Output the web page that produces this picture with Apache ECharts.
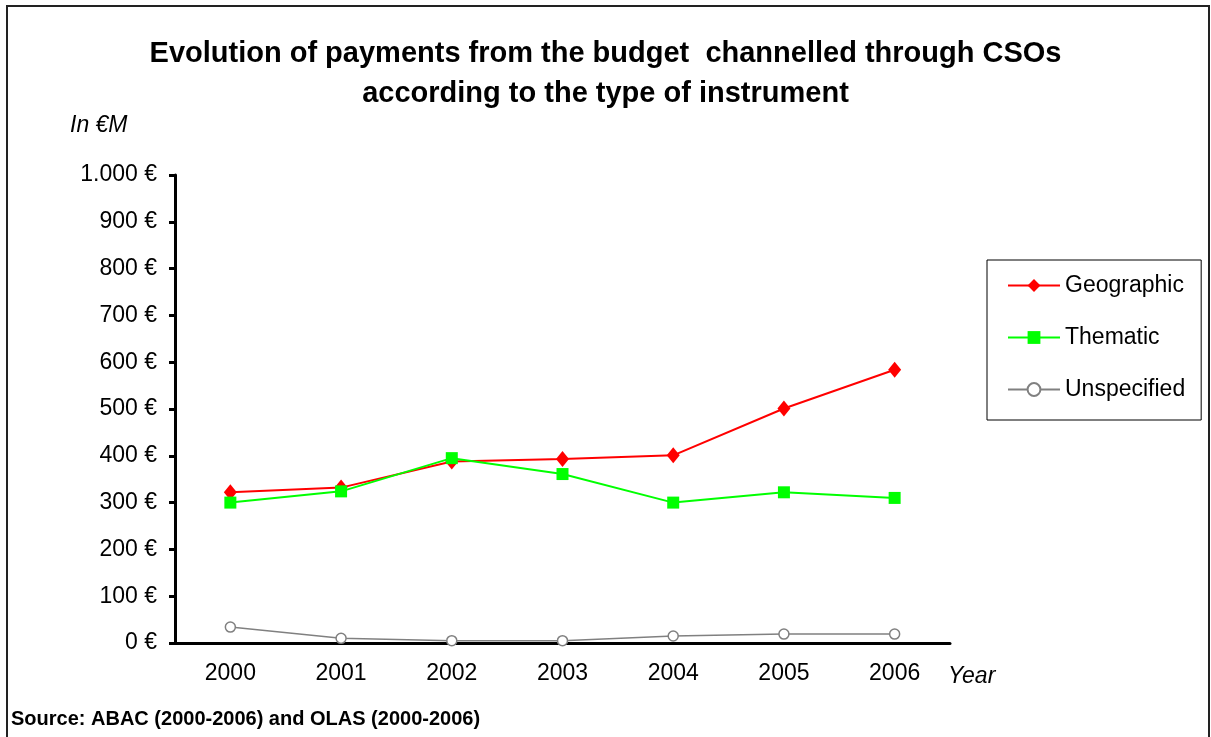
<!DOCTYPE html>
<html>
<head>
<meta charset="utf-8">
<script src="https://cdn.jsdelivr.net/npm/echarts@6/dist/echarts.min.js"></script>
<style>
  html, body { margin: 0; padding: 0; background: #fff; }
  #chart { width: 1211px; height: 737px; }
</style>
</head>
<body>
<div id="chart"></div>
<script>
// Payments channelled through CSOs, in millions of euro
const years = ['2000', '2001', '2002', '2003', '2004', '2005', '2006'];
const geographic = [322, 332, 388, 393, 401, 501, 584];
const thematic = [300, 324, 395, 361, 300, 322, 310];
const unspecified = [34, 10, 5, 5, 15, 19, 19];

const FONT = '"Liberation Sans", Arial, sans-serif';

function euro(v) {
  const s = String(v).replace(/\B(?=(\d{3})+(?!\d))/g, '.');
  return s + ' €';
}

const chart = echarts.init(document.getElementById('chart'), null, { renderer: 'canvas' });

chart.setOption({
  backgroundColor: '#ffffff',
  animation: false,
  title: {
    text: 'Evolution of payments from the budget  channelled through CSOs\naccording to the type of instrument',
    left: 'center',
    top: 29,
    textStyle: {
      fontFamily: FONT,
      fontWeight: 'bold',
      fontSize: 29,
      lineHeight: 40,
      color: '#000'
    }
  },
  legend: {
    orient: 'vertical',
    left: 987,
    top: 260,
    padding: [14, 16, 19, 20],
    itemGap: 29,
    itemWidth: 52,
    itemHeight: 16,
    borderColor: '#000',
    borderWidth: 1,
    textStyle: { fontFamily: FONT, fontSize: 23, lineHeight: 22, color: '#000' },
    data: ['Geographic', 'Thematic', 'Unspecified']
  },
  grid: { left: 175, right: 261, top: 175, bottom: 94 },
  xAxis: {
    type: 'category',
    data: years,
    boundaryGap: true,
    axisLine: { lineStyle: { color: '#000', width: 3 } },
    axisTick: { length: 8, lineStyle: { color: '#000', width: 3 } },
    axisLabel: { margin: 19, fontFamily: FONT, fontSize: 23, color: '#000' },
    splitLine: { show: false }
  },
  yAxis: {
    type: 'value',
    min: 0,
    max: 1000,
    interval: 100,
    axisLine: { show: true, lineStyle: { color: '#000', width: 3 } },
    axisTick: { show: true, length: 6, lineStyle: { color: '#000', width: 3 } },
    axisLabel: { margin: 18, fontFamily: FONT, fontSize: 23, color: '#000', formatter: euro },
    splitLine: { show: false }
  },
  series: [
    {
      name: 'Geographic',
      type: 'line',
      data: geographic,
      color: '#ff0000',
      symbol: 'diamond',
      symbolSize: [13, 16],
      lineStyle: { width: 2, color: '#ff0000' },
      itemStyle: { color: '#ff0000' },
      z: 3
    },
    {
      name: 'Thematic',
      type: 'line',
      data: thematic,
      color: '#00ff00',
      symbol: 'rect',
      symbolSize: 12,
      lineStyle: { width: 2, color: '#00ff00' },
      itemStyle: { color: '#00ff00' },
      z: 4
    },
    {
      name: 'Unspecified',
      type: 'line',
      data: unspecified,
      color: '#808080',
      symbol: 'circle',
      symbolSize: 10,
      lineStyle: { width: 1.5, color: '#808080' },
      itemStyle: { color: '#ffffff', borderColor: '#808080', borderWidth: 1.5 },
      z: 5
    }
  ],
  graphic: [
    {
      type: 'rect',
      shape: { x: 7, y: 6, width: 1202, height: 760 },
      style: { fill: null, stroke: '#222', lineWidth: 2 },
      silent: true,
      z: -1
    },
    {
      type: 'text',
      left: 70,
      top: 114,
      style: { text: 'In €M', font: 'italic 23px ' + FONT, fill: '#000' }
    },
    {
      type: 'text',
      left: 948,
      top: 665,
      style: { text: 'Year', font: 'italic 23px ' + FONT, fill: '#000' }
    },
    {
      type: 'text',
      left: 11,
      top: 709,
      style: { text: 'Source: ABAC (2000-2006) and OLAS (2000-2006)', font: 'bold 20px ' + FONT, fill: '#000' }
    }
  ]
});
</script>
</body>
</html>
